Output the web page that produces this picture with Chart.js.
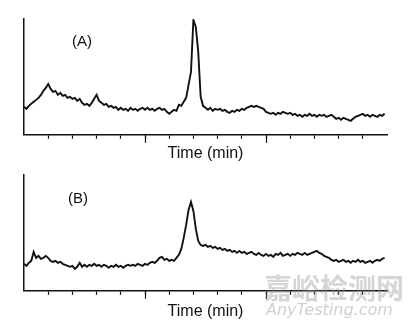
<!DOCTYPE html>
<html>
<head>
<meta charset="utf-8">
<script src="https://cdn.jsdelivr.net/npm/chart.js@4.4.1/dist/chart.umd.min.js"></script>
<style>
  body { margin: 0; background: #fff; width: 416px; height: 330px; overflow: hidden; position: relative; font-family: "Liberation Sans", Arial, sans-serif; }
  .panel { position: absolute; left: 0; width: 416px; }
  .tag { position: absolute; font-size: 15px; line-height: 15px; color: #111; }
  .wm { position: absolute; pointer-events: none; white-space: nowrap; }
  .wm-cn { left: 264px; top: 271px; font-family: "Noto Sans CJK SC", sans-serif; font-weight: bold; font-size: 28px; line-height: 32px; color: rgba(150,150,150,0.4); }
  .wm-en { left: 266px; top: 301px; font-family: "DejaVu Sans", sans-serif; font-style: italic; font-size: 16px; line-height: 18px; color: rgba(150,150,150,0.45); }
</style>
</head>
<body>
<div class="panel" style="top:0;height:167px"><canvas id="chartA"></canvas></div>
<div class="panel" style="top:160px;height:165px"><canvas id="chartB"></canvas></div>
<div class="tag" id="tagA" style="left:72px;top:33px"></div>
<div class="tag" id="tagB" style="left:68px;top:190px"></div>
<div class="wm wm-cn">嘉峪检测网</div>
<div class="wm wm-en">AnyTesting.com</div>
<script>
// detector signal, one reading every 0.1 min
const signalA = [
    28, 26, 29, 31, 33, 35, 37, 40, 44, 47,
    51, 46, 43, 44, 40, 42, 39, 40, 37, 38,
    36, 37, 34, 36, 32, 30, 31, 29, 32, 36,
    40, 34, 32, 30, 31, 28, 29, 27, 28, 25,
    27, 25, 26, 24, 27, 25, 26, 24, 26, 27,
    25, 27, 25, 26, 24, 26, 27, 25, 26, 23,
    21, 23, 25, 24, 30, 29, 33, 37, 50, 63,
    115, 108, 83, 38, 29, 27, 25, 27, 24, 26,
    25, 26, 24, 25, 23, 22, 24, 23, 25, 24,
    26, 25, 27, 28, 29, 28, 29, 28, 27, 26,
    23, 22, 21, 22, 20, 22, 21, 23, 22, 21,
    22, 20, 21, 19, 20, 18, 20, 19, 21, 19,
    20, 18, 20, 19, 20, 18, 19, 20, 18, 16,
    17, 15, 17, 16, 15, 14, 16, 18, 19, 20,
    21, 19, 20, 18, 20, 19, 18, 20, 19, 21
];
const signalB = [
    27, 25, 28, 30, 39, 33, 35, 32, 33, 35,
    33, 30, 29, 30, 28, 29, 27, 26, 25, 24,
    25, 22, 24, 28, 24, 26, 24, 26, 25, 27,
    25, 26, 24, 26, 25, 23, 25, 24, 26, 24,
    25, 23, 25, 26, 25, 26, 25, 27, 26, 25,
    27, 26, 28, 29, 28, 30, 33, 34, 31, 32,
    30, 31, 30, 33, 36, 42, 53, 66, 81, 89,
    80, 62, 50, 46, 45, 46, 44, 45, 43, 44,
    42, 43, 41, 42, 40, 41, 39, 40, 38, 40,
    38, 39, 37, 38, 39, 37, 36, 38, 36, 35,
    37, 35, 36, 34, 37, 36, 38, 35, 36, 37,
    35, 37, 36, 38, 37, 36, 38, 36, 37, 38,
    39, 40, 38, 37, 35, 34, 33, 31, 30, 31,
    29, 30, 31, 29, 30, 28, 30, 29, 31, 29,
    30, 28, 29, 30, 28, 30, 31, 30, 32, 33
];
const timeStep = 0.1;
const majorTicks = [5, 10];
const panelLabels = ['(A)', '(B)'];
const axisTitle = 'Time (min)';

const ink = '#111';
const fontFamily = '"Liberation Sans", Arial, sans-serif';

document.getElementById('tagA').textContent = panelLabels[0];
document.getElementById('tagB').textContent = panelLabels[1];

function toPoints(values) {
    return values.map((v, i) => ({ x: +(i * timeStep).toFixed(1), y: v }));
}

// longer tick marks at 5 and 10 min
const majorTickPlugin = {
    id: 'majorTicks',
    afterDraw(chart) {
        const xScale = chart.scales.x;
        const ctx = chart.ctx;
        const y0 = chart.chartArea.bottom;
        ctx.save();
        ctx.strokeStyle = ink;
        ctx.lineWidth = 1.2;
        majorTicks.forEach(v => {
            const px = Math.round(xScale.getPixelForValue(v)) + 0.5;
            ctx.beginPath();
            ctx.moveTo(px, y0);
            ctx.lineTo(px, y0 + 8);
            ctx.stroke();
        });
        ctx.restore();
    }
};

function makeChart(id, values, padTop, titlePadTop) {
    const ctx = document.getElementById(id).getContext('2d');
    return new Chart(ctx, {
        type: 'line',
        data: {
            datasets: [{
                data: toPoints(values),
                borderColor: ink,
                borderWidth: 1.9,
                pointRadius: 0,
                tension: 0
            }]
        },
        options: {
            responsive: true,
            maintainAspectRatio: false,
            animation: false,
            layout: { padding: { top: padTop, left: 16, right: 29, bottom: 0 } },
            plugins: {
                legend: { display: false },
                tooltip: { enabled: false }
            },
            scales: {
                x: {
                    type: 'linear',
                    min: 0,
                    max: 15,
                    ticks: { stepSize: 1, display: false },
                    grid: {
                        drawOnChartArea: false,
                        drawTicks: true,
                        tickLength: 4,
                        tickWidth: 1.2,
                        tickColor: c => (c.tick && (c.tick.value === 0 || c.tick.value === 15)) ? 'rgba(0,0,0,0)' : ink
                    },
                    border: { color: ink, width: 1.5 },
                    title: {
                        display: true,
                        text: axisTitle,
                        color: ink,
                        font: { family: fontFamily, size: 16 },
                        padding: { top: titlePadTop, bottom: 4 }
                    }
                },
                y: {
                    min: 0,
                    max: 116,
                    ticks: { display: false },
                    grid: { display: false },
                    border: { color: ink, width: 1.5 }
                }
            }
        },
        plugins: [majorTickPlugin]
    });
}

makeChart('chartA', signalA, 19, 5);
makeChart('chartB', signalB, 15, 7);
</script>
</body>
</html>
